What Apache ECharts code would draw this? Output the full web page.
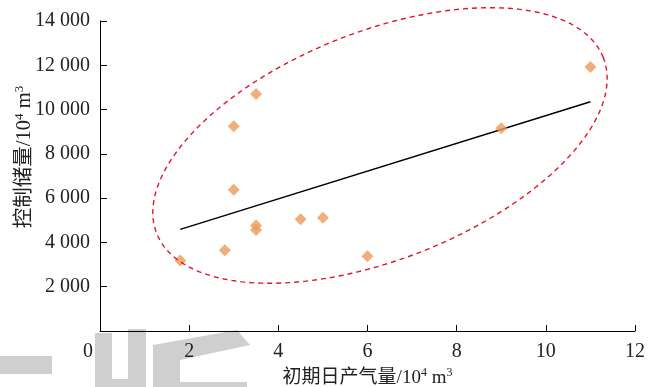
<!DOCTYPE html>
<html>
<head>
<meta charset="utf-8">
<script src="https://cdn.jsdelivr.net/npm/echarts@6/dist/echarts.min.js"></script>
<style>
  html, body { margin: 0; padding: 0; background: #fff; }
  #chart { width: 660px; height: 387px; }
</style>
</head>
<body>
<div id="chart"></div>
<script>
// Initial daily gas rate (10^4 m3) vs. controlled reserves (10^4 m3)
const rateValues    = [1.8, 2.8, 3.0, 3.0, 3.5, 3.5, 3.5, 4.5, 5.0, 6.0, 9.0, 11.0];
const reserveValues = [3180, 3650, 9250, 6380, 10700, 4770, 4560, 5050, 5120, 3380, 9160, 11920];

// Fitted trend line end points
const trendRate    = [1.8, 11.0];
const trendReserve = [4590, 10350];

// Axis ticks
const xTickValues = [0, 2, 4, 6, 8, 10, 12];
const yTickValues = [0, 2000, 4000, 6000, 8000, 10000, 12000, 14000];

// Dashed envelope: centre in data units, semi-axes in pixels, tilt in degrees
const envelopeCentre = [6.28, 8378];
const envelopeAxes = [240, 114];
const envelopeTilt = 21.5;

const serif = '"Liberation Serif", "Times New Roman", serif';
const cjk = '"Liberation Serif", "Noto Sans CJK SC", serif';

const fmtThousands = v => {
  const s = String(v);
  return s.length > 3 ? s.slice(0, -3) + ' ' + s.slice(-3) : s;
};

const chart = echarts.init(document.getElementById('chart'), null, { renderer: 'canvas' });

const xSup = { fontFamily: serif, fontSize: 12, color: '#222', verticalAlign: 'top', lineHeight: 22 };
const xName = { fontFamily: cjk, fontSize: 19, color: '#222', lineHeight: 22 };
const ySup = { fontFamily: serif, fontSize: 13, color: '#222', verticalAlign: 'top', lineHeight: 24 };
const yName = { fontFamily: cjk, fontSize: 20.5, color: '#222', lineHeight: 24 };

chart.setOption({
  animation: false,
  backgroundColor: '#fff',
  grid: { left: 100, right: 25, top: 21, bottom: 56, containLabel: false, outerBoundsMode: 'none' },
  xAxis: {
    type: 'value',
    min: 0, max: 12, interval: 2,
    axisLine: { lineStyle: { color: '#000', width: 1 } },
    axisTick: { inside: true, length: 6, lineStyle: { color: '#000' } },
    splitLine: { show: false },
    axisLabel: {
      margin: 11,
      fontFamily: serif, fontSize: 20, color: '#222',
      formatter: v => (v === 0 ? '{o|0}' : String(v)),
      rich: { o: { fontFamily: serif, fontSize: 20, color: '#222', padding: [0, 24, 0, 0] } }
    },
    name: '{n|初期日产气量/10}{s|4}{n| m}{s|3}',
    nameLocation: 'middle',
    nameGap: 36,
    nameMoveOverlap: false,
    nameTextStyle: { rich: { n: xName, s: xSup } }
  },
  yAxis: {
    type: 'value',
    min: 0, max: 14000, interval: 2000,
    axisLine: { show: true, lineStyle: { color: '#000', width: 1 } },
    axisTick: { show: true, inside: true, length: 7, lineStyle: { color: '#000' } },
    splitLine: { show: false },
    axisLabel: {
      margin: 10, showMinLabel: false,
      fontFamily: serif, fontSize: 20, color: '#222',
      formatter: v => (yTickValues.includes(v) ? fmtThousands(v) : '')
    },
    name: '{p|}{n|控制储量/10}{s|4}{n| m}{s|3}',
    nameLocation: 'middle',
    nameRotate: 90,
    nameGap: 63,
    nameMoveOverlap: false,
    nameTextStyle: { rich: { p: { width: 38 }, n: yName, s: ySup } }
  },
  series: [
    {
      type: 'scatter',
      symbol: 'diamond',
      symbolSize: 12,
      itemStyle: { color: '#EE9A5C' },
      data: rateValues.map((x, i) => [x, reserveValues[i]]),
      z: 3
    },
    {
      type: 'line',
      data: trendRate.map((x, i) => [x, trendReserve[i]]),
      symbol: 'none',
      lineStyle: { color: '#000', width: 1.5 },
      z: 2
    }
  ]
});

// Light grey watermark glyphs along the bottom edge, plus the dashed envelope
function drawOverlay() {
  const c = chart.convertToPixel({ gridIndex: 0 }, envelopeCentre);
  const [a, b] = envelopeAxes;
  const t = envelopeTilt * Math.PI / 180;
  const pts = [];
  for (let i = 0; i <= 180; i++) {
    const u = (i / 180) * Math.PI * 2;
    const ex = a * Math.cos(u), ey = b * Math.sin(u);
    pts.push([c[0] + ex * Math.cos(t) - ey * Math.sin(t), c[1] - (ex * Math.sin(t) + ey * Math.cos(t))]);
  }
  const grey = '#cfcfcf';
  chart.setOption({
    graphic: [
      { type: 'rect', z: -10, silent: true, shape: { x: 0, y: 356, width: 52, height: 18 }, style: { fill: grey } },
      { type: 'polygon', z: -10, silent: true,
        shape: { points: [[95, 333], [112, 333], [112, 379], [128, 379], [128, 329], [146, 329], [146, 387], [95, 387]] },
        style: { fill: grey } },
      { type: 'polygon', z: -10, silent: true,
        shape: { points: [[153, 345], [237, 330], [250, 345], [180, 360], [180, 382], [247, 382], [247, 387], [153, 387]] },
        style: { fill: grey } },
      { type: 'polyline', z: 5, silent: true,
        shape: { points: pts },
        style: { stroke: '#E0162B', lineWidth: 1.4, lineDash: [5, 4], fill: null } }
    ]
  });
}
drawOverlay();
</script>
</body>
</html>
